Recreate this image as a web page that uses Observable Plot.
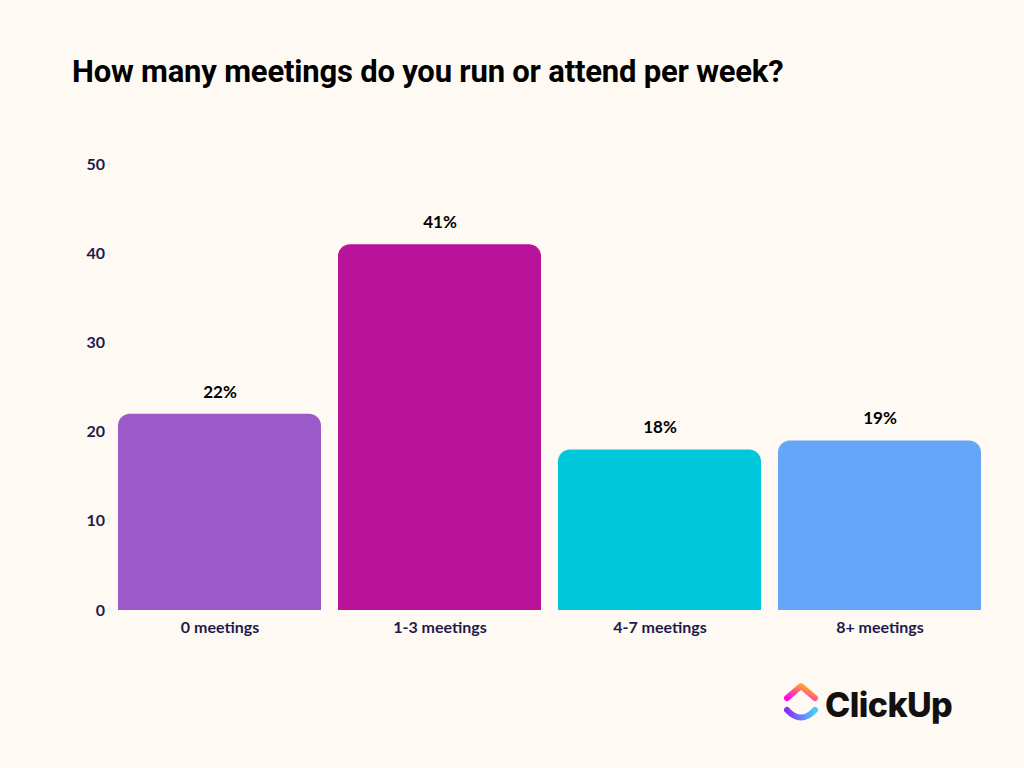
<!DOCTYPE html>
<html>
<head>
<meta charset="utf-8">
<script src="https://cdn.jsdelivr.net/npm/d3@7"></script>
<script src="https://cdn.jsdelivr.net/npm/@observablehq/plot@0.6"></script>
<style>
  html, body { margin: 0; padding: 0; background: #fff9f3; }
  #wrap { position: relative; width: 1024px; height: 768px; background: #fff9f3; overflow: hidden; }
  #title { position: absolute; left: 72px; top: 54px; font-family: Roboto, sans-serif; font-weight: 700; font-size: 31px; line-height: 1.172; color: #000; letter-spacing: -0.2px; white-space: nowrap; }
  #chart { position: absolute; left: 0; top: 110px; }
  #logo { position: absolute; left: 782px; top: 678px; }
</style>
</head>
<body>
<div id="wrap">
  <div id="title">How many meetings do you run or attend per week?</div>
  <div id="chart"></div>
  <div id="logo">
    <svg width="180" height="52" viewBox="0 0 180 52">
      <defs>
        <linearGradient id="gTop" x1="0" y1="1" x2="1" y2="0">
          <stop offset="0" stop-color="#ff02f0"/>
          <stop offset="1" stop-color="#ffc800"/>
        </linearGradient>
        <linearGradient id="gBot" x1="0" y1="0" x2="1" y2="0">
          <stop offset="0" stop-color="#8930fd"/>
          <stop offset="1" stop-color="#49ccf9"/>
        </linearGradient>
      </defs>
      <path d="M5 20 L19 8 L33 20" fill="none" stroke="url(#gTop)" stroke-width="6" stroke-linecap="round" stroke-linejoin="round"/>
      <path d="M5 32 Q19 47 33 32" fill="none" stroke="url(#gBot)" stroke-width="6" stroke-linecap="round"/>
      <text x="43" y="39" font-family="Inter, sans-serif" font-weight="800" font-size="34" fill="#111" letter-spacing="-0.6">ClickUp</text>
    </svg>
  </div>
</div>
<script>
const categories = ["0 meetings", "1-3 meetings", "4-7 meetings", "8+ meetings"];
const values = [22, 41, 18, 19];
const labels = ["22%", "41%", "18%", "19%"];
const colors = ["#9b59c9", "#bb129c", "#00c8dc", "#66a6f8"];
const yTicks = [0, 10, 20, 30, 40, 50];

const data = categories.map((c, i) => ({category: c, value: values[i], label: labels[i], half: values[i] / 2}));

const chart = Plot.plot({
  width: 1024,
  height: 540,
  marginTop: 54,
  marginBottom: 40,
  marginLeft: 109.5,
  marginRight: 34.5,
  style: {background: "transparent", fontFamily: "Lato, sans-serif", fontSize: "16px", fontWeight: "700", color: "#1e1a4d"},
  x: {domain: categories, paddingInner: 0.077, paddingOuter: 0.0385, label: null, tickSize: 0, tickPadding: 11},
  y: {domain: [0, 50], ticks: yTicks, label: null, tickSize: 0, tickPadding: 5},
  color: {domain: categories, range: colors},
  marks: [
    Plot.barY(data, {x: "category", y: "value", fill: "category", rx: 12}),
    Plot.barY(data, {x: "category", y: "half", fill: "category"}),
    Plot.text(data, {x: "category", y: "value", text: "label", dy: -22, fill: "#000", fontSize: 17, fontWeight: 700})
  ]
});
document.getElementById("chart").appendChild(chart);
</script>
</body>
</html>
